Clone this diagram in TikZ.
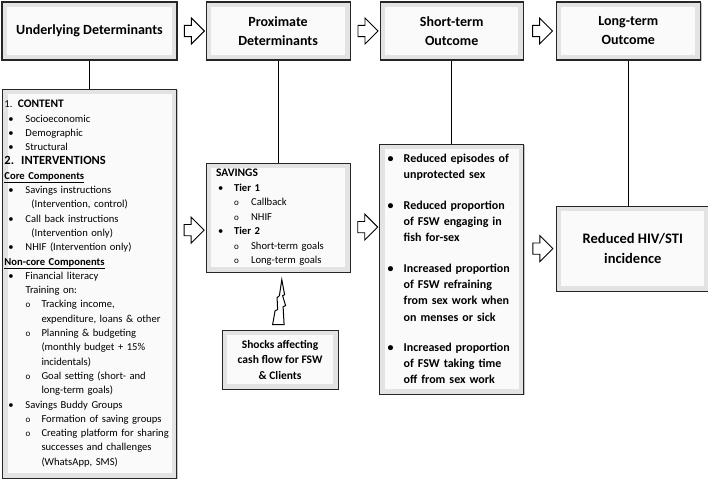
\documentclass[tikz,border=0pt]{standalone}
\usepackage{fontspec}
\setmainfont{Carlito}
\usetikzlibrary{positioning,shapes.arrows,shadows}
\newcommand{\bu}{\hspace*{4pt}\makebox[17pt][l]{\textbullet}}
\newcommand{\su}{\hspace*{21pt}\makebox[16pt][l]{\small o}}
\newcommand{\cont}[1]{\hspace*{#1}}

\begin{document}
\begin{tikzpicture}[%
  box/.style={draw=black!85,line width=1.1pt,rectangle,inner sep=0pt,%
    drop shadow={shadow xshift=1.2pt,shadow yshift=-1.2pt,fill=black!45},%
    path picture={%
      \fill[gray!22] (path picture bounding box.south west) rectangle (path picture bounding box.north east);
      \fill[gray!4] ([shift={(5pt,5pt)}]path picture bounding box.south west) rectangle ([shift={(-5pt,-5pt)}]path picture bounding box.north east);}},%
  hdr/.style={box,font=\bfseries\fontsize{14}{19}\selectfont,align=center,minimum height=58pt},%
  big/.style={single arrow,draw,line width=0.9pt,fill=white,minimum width=26pt,minimum height=20pt,inner xsep=0pt,inner ysep=5pt},%
  link/.style={line width=1.1pt}%
  ]
  \useasboundingbox (0,0) rectangle (708pt,-485pt);
  \node[hdr,minimum width=175pt] (ud) at (89.5pt,-31pt) {Underlying Determinants};
  \node[hdr,minimum width=144pt,right=28pt of ud] (pd) {Proximate\\Determinants};
  \node[hdr,minimum width=143pt,right=29pt of pd] (st) {Short-term\\Outcome};
  \node[hdr,minimum width=144pt,right=32pt of st] (lt) {Long-term\\Outcome};
%
  \node[box,below=28pt of ud,minimum width=174pt,minimum height=389pt,text width=170pt,inner xsep=2pt,align=left,font=\fontsize{10.6}{14.3}\selectfont] (content) {%
    1. {\bfseries\fontsize{11.5}{14.3}\selectfont CONTENT}\\
    \bu Socioeconomic\\
    \bu Demographic\\
    \bu Structural\\
    {\bfseries\fontsize{12.5}{14.3}\selectfont 2.\ \ INTERVENTIONS}\\
    \underline{\textbf{Core Components}}\\
    \bu Savings instructions\\
    \cont{27pt}(Intervention, control)\\
    \bu Call back instructions\\
    \cont{27pt}(Intervention only)\\
    \bu NHIF (Intervention only)\\
    \underline{\textbf{Non-core Components}}\\
    \bu Financial literacy\\
    \cont{21pt}Training on:\\
    \su Tracking income,\\
    \cont{37pt}expenditure, loans \& other\\
    \su Planning \& budgeting\\
    \cont{37pt}(monthly budget + 15\%\\
    \cont{37pt}incidentals)\\
    \su Goal setting (short- and\\
    \cont{37pt}long-term goals)\\
    \bu Savings Buddy Groups\\
    \su Formation of saving groups\\
    \su Creating platform for sharing\\
    \cont{37pt}successes and challenges\\
    \cont{37pt}(WhatsApp, SMS)};
%
  \node[box,below=102pt of pd,minimum width=144pt,minimum height=109pt,text width=124pt,inner xsep=10pt,align=left,font=\fontsize{10.6}{14.5}\selectfont] (sav) {%
    {\bfseries\fontsize{11.5}{14.5}\selectfont SAVINGS}\\
    \hspace*{2pt}\makebox[16pt][l]{\textbullet}\textbf{Tier 1}\\
    \hspace*{18pt}\makebox[17pt][l]{\small o}Callback\\
    \hspace*{18pt}\makebox[17pt][l]{\small o}NHIF\\
    \hspace*{2pt}\makebox[16pt][l]{\textbullet}\textbf{Tier 2}\\
    \hspace*{18pt}\makebox[17pt][l]{\small o}Short-term goals\\
    \hspace*{18pt}\makebox[17pt][l]{\small o}Long-term goals};
%
  \node[box,below=57pt of sav,xshift=2pt,minimum width=116pt,minimum height=59pt,align=center,font=\bfseries\fontsize{11.5}{15.5}\selectfont] (shk) {Shocks affecting\\cash flow for FSW\\\& Clients};
%
  \node[box,below=83pt of st,minimum width=144pt,minimum height=250pt,text width=128pt,inner xsep=8pt,align=left,font=\bfseries\fontsize{12}{16.3}\selectfont] (out) {%
    \makebox[16pt][l]{\textbullet}Reduced episodes of\\
    \cont{16pt}unprotected sex\\[14pt]
    \makebox[16pt][l]{\textbullet}Reduced proportion\\
    \cont{16pt}of FSW engaging in\\
    \cont{16pt}fish for-sex\\[14pt]
    \makebox[16pt][l]{\textbullet}Increased proportion\\
    \cont{16pt}of FSW refraining\\
    \cont{16pt}from sex work when\\
    \cont{16pt}on menses or sick\\[14pt]
    \makebox[16pt][l]{\textbullet}Increased proportion\\
    \cont{16pt}of FSW taking time\\
    \cont{16pt}off from sex work};
%
  \node[box,below=145pt of lt,xshift=4.5pt,minimum width=153pt,minimum height=85pt,align=center,font=\bfseries\fontsize{14.5}{20}\selectfont] (hiv) {Reduced HIV/STI\\incidence};
%
  \draw[link] (ud) -- (content);
  \draw[link] (pd) -- (sav);
  \draw[link] (st) -- (out);
  \draw[link] (lt.south) -- (lt.south |- hiv.north);
%
  \path (ud) -- (pd) node[midway,big] (a1) {};
  \path (pd) -- (st) node[midway,big] (a2) {};
  \path (st) -- (lt) node[midway,big] (a3) {};
  \path (content.east |- sav) -- (sav.west) node[midway,big,yshift=-12.5pt] (a4) {};
  \path (sav.east) -- (out.west |- sav) node[midway,big,yshift=-9.5pt] (a5) {};
  \path (out.east |- hiv) -- (hiv.west) node[midway,big] (a6) {};
%
  \begin{scope}[shift={(shk.north)}]
    \draw[line width=1pt,fill=white] (1.7pt,50pt) -- (4.5pt,35pt) -- (2.5pt,34pt) -- (5.5pt,24pt) -- (3pt,23pt) -- (4pt,5pt) -- (-7.5pt,5pt) -- (-5pt,19pt) -- (-2.5pt,20pt) -- (-3pt,32pt) -- (-0.7pt,34pt) -- cycle;
  \end{scope}
\end{tikzpicture}
\end{document}
